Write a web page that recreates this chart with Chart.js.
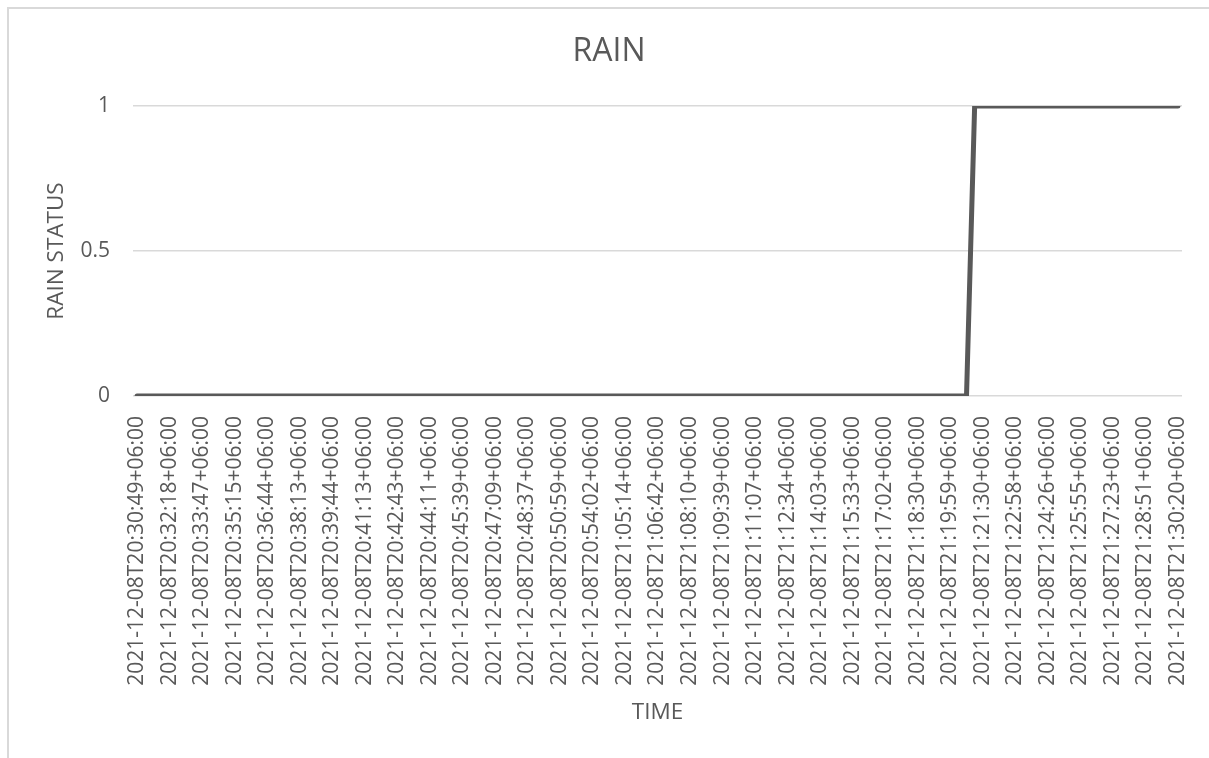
<!DOCTYPE html>
<html>
<head>
<meta charset="utf-8">
<script src="https://cdn.jsdelivr.net/npm/chart.js@4.4.1/dist/chart.umd.min.js"></script>
<style>
    html, body { margin: 0; padding: 0; background: #fff; overflow: hidden; }
    #frame {
        position: absolute; left: 7px; top: 7px; width: 1220px; height: 770px;
        border-left: 2px solid #d9d9d9; border-top: 2px solid #d9d9d9;
    }
    #wrap { position: absolute; left: 0; top: 0; width: 1209px; height: 758px; }
</style>
</head>
<body>
<div id="frame"></div>
<div id="wrap"><canvas id="rainChart"></canvas></div>
<script>
// tick labels shown on the category axis (one every 4 samples)
var timeLabels = [
    "2021-12-08T20:30:49+06:00",
    "2021-12-08T20:32:18+06:00",
    "2021-12-08T20:33:47+06:00",
    "2021-12-08T20:35:15+06:00",
    "2021-12-08T20:36:44+06:00",
    "2021-12-08T20:38:13+06:00",
    "2021-12-08T20:39:44+06:00",
    "2021-12-08T20:41:13+06:00",
    "2021-12-08T20:42:43+06:00",
    "2021-12-08T20:44:11+06:00",
    "2021-12-08T20:45:39+06:00",
    "2021-12-08T20:47:09+06:00",
    "2021-12-08T20:48:37+06:00",
    "2021-12-08T20:50:59+06:00",
    "2021-12-08T20:54:02+06:00",
    "2021-12-08T21:05:14+06:00",
    "2021-12-08T21:06:42+06:00",
    "2021-12-08T21:08:10+06:00",
    "2021-12-08T21:09:39+06:00",
    "2021-12-08T21:11:07+06:00",
    "2021-12-08T21:12:34+06:00",
    "2021-12-08T21:14:03+06:00",
    "2021-12-08T21:15:33+06:00",
    "2021-12-08T21:17:02+06:00",
    "2021-12-08T21:18:30+06:00",
    "2021-12-08T21:19:59+06:00",
    "2021-12-08T21:21:30+06:00",
    "2021-12-08T21:22:58+06:00",
    "2021-12-08T21:24:26+06:00",
    "2021-12-08T21:25:55+06:00",
    "2021-12-08T21:27:23+06:00",
    "2021-12-08T21:28:51+06:00",
    "2021-12-08T21:30:20+06:00",
];
var labelEvery = 4;

// rain status per sample (129 samples)
var rainStatus = [
    0, 0, 0, 0, 0, 0, 0, 0, 0, 0, 0, 0, 0, 0, 0, 0, 0, 0, 0, 0,
    0, 0, 0, 0, 0, 0, 0, 0, 0, 0, 0, 0, 0, 0, 0, 0, 0, 0, 0, 0,
    0, 0, 0, 0, 0, 0, 0, 0, 0, 0, 0, 0, 0, 0, 0, 0, 0, 0, 0, 0,
    0, 0, 0, 0, 0, 0, 0, 0, 0, 0, 0, 0, 0, 0, 0, 0, 0, 0, 0, 0,
    0, 0, 0, 0, 0, 0, 0, 0, 0, 0, 0, 0, 0, 0, 0, 0, 0, 0, 0, 0,
    0, 0, 0, 1, 1, 1, 1, 1, 1, 1, 1, 1, 1, 1, 1, 1, 1, 1, 1, 1,
    1, 1, 1, 1, 1, 1, 1, 1, 1,
];

var yTicks = [0, 0.5, 1];
var yTickLabels = ["0", "0.5", "1"];

var textColor = "#595959",
    gridColor = "#d9d9d9",
    fontFamily = "'Open Sans', 'Liberation Sans', sans-serif";

var points = rainStatus.map(function (v, i) {
    return { x: i, y: v };
});

var ctx1 = document.getElementById("rainChart").getContext("2d"),
    myChart = new Chart(ctx1, {
        type: "line",
        data: {
            datasets: [
                {
                    label: "RAIN",
                    data: points,
                    borderColor: "#595959",
                    backgroundColor: "#595959",
                    borderWidth: 5,
                    borderJoinStyle: "round",
                    borderCapStyle: "round",
                    pointRadius: 0,
                    tension: 0,
                },
            ],
        },
        options: {
            responsive: !0,
            maintainAspectRatio: !1,
            animation: !1,
            layout: { padding: { left: 36, right: 27, top: 0, bottom: 0 } },
            plugins: {
                legend: { display: !1 },
                tooltip: { enabled: !1 },
                title: {
                    display: !0,
                    text: "RAIN",
                    color: textColor,
                    font: { family: fontFamily, size: 32, weight: "normal", lineHeight: 1.2 },
                    padding: { top: 33, bottom: 34.6 },
                },
            },
            scales: {
                x: {
                    type: "linear",
                    min: -0.5,
                    max: rainStatus.length - 0.5,
                    afterBuildTicks: function (scale) {
                        scale.ticks = timeLabels.map(function (t, k) {
                            return { value: k * labelEvery };
                        });
                    },
                    afterFit: function (scale) {
                        scale.height = 362;
                        scale.paddingLeft = 0;
                        scale.paddingRight = 0;
                    },
                    ticks: {
                        autoSkip: !1,
                        minRotation: 90,
                        maxRotation: 90,
                        padding: 12,
                        color: textColor,
                        font: { family: fontFamily, size: 21 },
                        callback: function (value) {
                            return timeLabels[value / labelEvery];
                        },
                    },
                    grid: { display: !1 },
                    border: { display: !1 },
                    title: {
                        display: !0,
                        text: "TIME",
                        color: textColor,
                        font: { family: fontFamily, size: 22.5, lineHeight: 1.2 },
                        padding: { top: 0, bottom: 31.5 },
                    },
                },
                y: {
                    min: 0,
                    max: 1,
                    afterBuildTicks: function (scale) {
                        scale.ticks = yTicks.map(function (v) {
                            return { value: v };
                        });
                    },
                    afterFit: function (scale) {
                        scale.width = 97;
                    },
                    ticks: {
                        padding: 23,
                        color: textColor,
                        font: { family: fontFamily, size: 21 },
                        callback: function (value) {
                            return yTickLabels[yTicks.indexOf(value)];
                        },
                    },
                    grid: {
                        color: gridColor,
                        lineWidth: 1.5,
                        drawTicks: !1,
                    },
                    border: { display: !1 },
                    title: {
                        display: !0,
                        text: "RAIN STATUS",
                        color: textColor,
                        font: { family: fontFamily, size: 22.5, lineHeight: 1.2 },
                        padding: { top: 7.5, bottom: 0 },
                    },
                },
            },
        },
    });
</script>
</body>
</html>
